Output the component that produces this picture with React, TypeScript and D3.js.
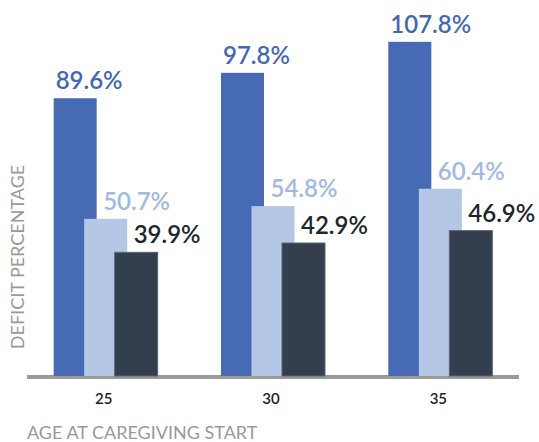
import React from "react";
import * as d3 from "d3";

const ages = ["25", "30", "35"];
const seriesNames = ["A", "B", "C"];
const seriesA = [89.6, 97.8, 107.8];
const seriesB = [50.7, 54.8, 60.4];
const seriesC = [39.9, 42.9, 46.9];
const seriesValues = [seriesA, seriesB, seriesC];
const barColors = ["#466AB3", "#B4C7E5", "#333E4E"];
const labelColors = ["#4567B0", "#A0B9E2", "#20252D"];
const yTitle = "DEFICIT PERCENTAGE";
const xTitle = "AGE AT CAREGIVING START";

const W = 539;
const H = 442;
const baseY = 376;
const labelOffsets = [2, 19, 19];
const barW = 43;
const FONT = "Lato, 'Open Sans', sans-serif";

export default function App() {
  const x = d3.scaleBand<string>().domain(ages).range([22, 524]).padding(0);
  const sub = d3.scalePoint<string>().domain(seriesNames).range([-52, 9]);
  const y = d3.scaleLinear().domain([0, 110]).range([baseY, baseY - 341]);

  return (
    <svg
      width={W}
      height={H}
      style={{ position: "absolute", left: 0, top: 0, display: "block" }}
    >
      <rect x={0} y={0} width={W} height={H} fill="#fff" />
      <rect x={27} y={375} width={492} height={4} fill="#9A9A9A" />
      {seriesValues.map((vals, si) =>
        vals.map((v, gi) => {
          const cx = (x(ages[gi]) as number) + x.bandwidth() / 2;
          const left = cx + (sub(seriesNames[si]) as number);
          return (
            <rect
              key={`b${si}-${gi}`}
              x={left}
              y={y(v)}
              width={barW}
              height={baseY - y(v)}
              fill={barColors[si]}
              stroke={si === 2 ? "#5B6472" : "none"}
              strokeWidth={si === 2 ? 1 : 0}
            />
          );
        })
      )}
      {seriesValues.map((vals, si) =>
        vals.map((v, gi) => {
          const cx = (x(ages[gi]) as number) + x.bandwidth() / 2;
          const left = cx + (sub(seriesNames[si]) as number);
          return (
            <text
              key={`l${si}-${gi}`}
              x={left + labelOffsets[si]}
              y={y(v) - 9}
              fill={labelColors[si]}
              fontFamily={FONT}
              fontSize={24}
              fontWeight={600}
            >
              {v.toFixed(1)}%
            </text>
          );
        })
      )}
      {ages.map((a) => (
        <text
          key={`t${a}`}
          x={(x(a) as number) + x.bandwidth() / 2 - 2}
          y={404}
          textAnchor="middle"
          fill="#222"
          fontFamily={FONT}
          fontSize={15}
          fontWeight={600}
        >
          {a}
        </text>
      ))}
      <text
        x={27}
        y={439}
        fill="#999"
        fontFamily={FONT}
        fontSize={18}
      >
        {xTitle}
      </text>
      <text
        transform="translate(24,257) rotate(-90)"
        textAnchor="middle"
        fill="#999"
        fontFamily={FONT}
        fontSize={18}
      >
        {yTitle}
      </text>
    </svg>
  );
}
